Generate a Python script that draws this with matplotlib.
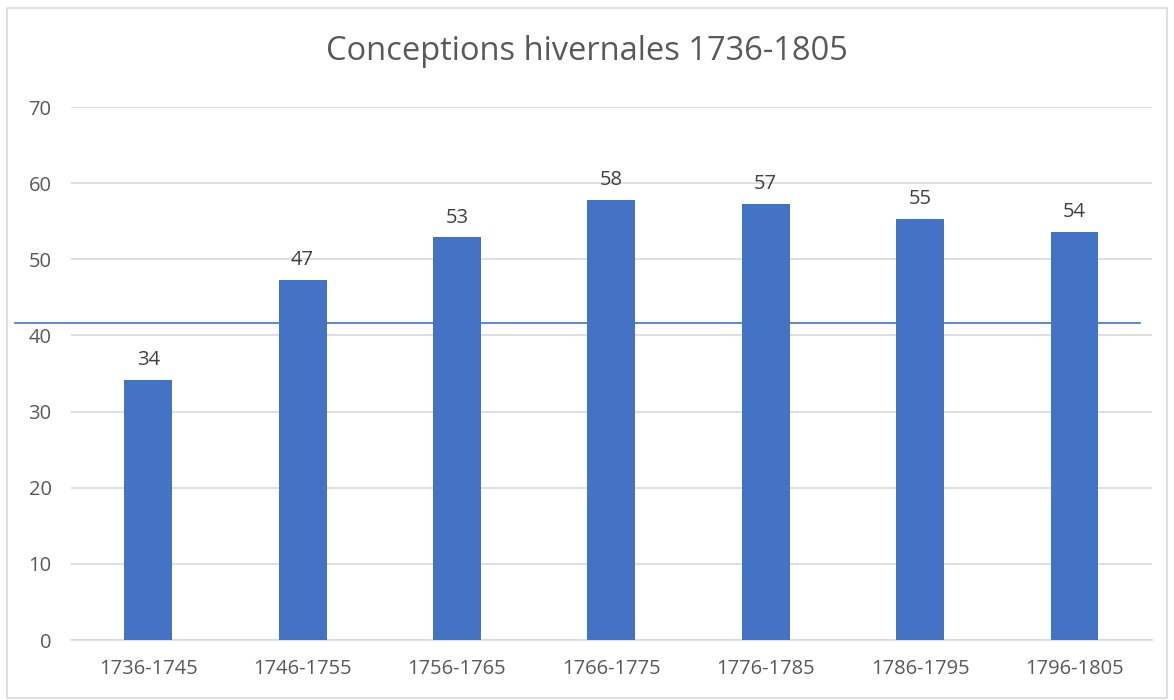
import matplotlib.pyplot as plt
import numpy as np
from matplotlib.lines import Line2D
from matplotlib.patches import Rectangle

periodes = ['1736-1745', '1746-1755', '1756-1765', '1766-1775',
            '1776-1785', '1786-1795', '1796-1805']
valeurs = [34.2, 47.3, 52.9, 57.8, 57.3, 55.3, 53.6]
etiquettes = ['34', '47', '53', '58', '57', '55', '54']
ligne_y = 41.6  # trait horizontal ajouté à la main

plt.rcParams['font.family'] = ['Open Sans', 'DejaVu Sans']

fig = plt.figure(figsize=(11.74, 7), dpi=100)
ax = fig.add_axes([0.0605, 0.0857, 0.9205, 0.7613])

x = np.arange(len(periodes))
barres = ax.bar(x, valeurs, width=0.31, color='#4472C4', zorder=3)

for b, txt in zip(barres, etiquettes):
    ax.annotate(txt, (b.get_x() + b.get_width() / 2, b.get_height()),
                xytext=(0, 7), textcoords='offset points',
                ha='center', va='bottom', fontsize=14.5, color='#404040')

ax.set_xlim(-0.5, len(periodes) - 0.5)
ax.set_ylim(0, 70)
ax.set_yticks(range(0, 71, 10))
ax.set_xticks(x)
ax.set_xticklabels(periodes)
ax.tick_params(axis='both', length=0, labelsize=14.5, colors='#595959')
ax.tick_params(axis='x', pad=14)
ax.tick_params(axis='y', pad=14)
ax.grid(axis='y', color='#D9D9D9', linewidth=1.2, zorder=0)
for s in ['top', 'right', 'left']:
    ax.spines[s].set_visible(False)
ax.spines['bottom'].set_color('#D9D9D9')
ax.spines['bottom'].set_linewidth(1.2)

fig.suptitle('Conceptions hivernales 1736-1805', y=0.95, fontsize=23.5,
             color='#595959')

# trait horizontal en coordonnées de la figure
y_fig = ax.transData.transform((0, ligne_y))[1] / fig.bbox.height
fig.add_artist(Line2D([15 / 1174, 1140 / 1174], [y_fig, y_fig],
                      color='#4472C4', linewidth=1.2, zorder=1))

# cadre du graphique
fig.add_artist(Rectangle((7 / 1174, 2 / 700), 1160 / 1174, 690 / 700,
                         fill=False, edgecolor='#D9D9D9', linewidth=1.2))

plt.savefig('out.png', dpi=100)
